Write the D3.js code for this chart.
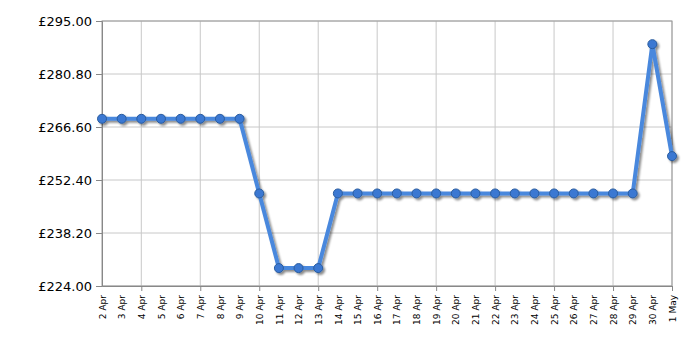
<!DOCTYPE html>
<html>
  <head>
    <meta charset="utf-8">
    <title>Price history</title>
    <script src="https://d3js.org/d3.v7.min.js"></script>
    <style>
      body { margin: 0; background: white; }
      #chart { display: block; }
      .grid line { stroke: #c8c8c8; stroke-width: 1; }
      .axis path, .axis line { stroke: #888; }
      .axis text { fill: #000; font-family: "DejaVu Sans", Verdana, sans-serif; }
      .frame { fill: none; stroke: #999; stroke-width: 1; }
      .priceLine { fill: none; stroke: #4a88dd; stroke-width: 4; stroke-linejoin: round; }
      .pricePoint { fill: #3b78d2; stroke: #2a5c9e; stroke-width: 1; }
    </style>
  </head>
  <body>
    <svg id="chart" width="700" height="350"></svg>
    <script>
      // data
      dates = ["2 Apr", "3 Apr", "4 Apr", "5 Apr", "6 Apr", "7 Apr", "8 Apr", "9 Apr", "10 Apr",
        "11 Apr", "12 Apr", "13 Apr", "14 Apr", "15 Apr", "16 Apr", "17 Apr", "18 Apr", "19 Apr",
        "20 Apr", "21 Apr", "22 Apr", "23 Apr", "24 Apr", "25 Apr", "26 Apr", "27 Apr", "28 Apr",
        "29 Apr", "30 Apr", "1 May"];
      prices = [268.8, 268.8, 268.8, 268.8, 268.8, 268.8, 268.8, 268.8, 248.8,
        228.8, 228.8, 228.8, 248.8, 248.8, 248.8, 248.8, 248.8, 248.8,
        248.8, 248.8, 248.8, 248.8, 248.8, 248.8, 248.8, 248.8, 248.8,
        248.8, 288.8, 258.8];
      yTicks = [224.00, 238.20, 252.40, 266.60, 280.80, 295.00];
      gridDates = ["4 Apr", "7 Apr", "10 Apr", "13 Apr", "16 Apr", "19 Apr", "22 Apr", "25 Apr", "28 Apr", "1 May"];

      // layout
      margin = { top: 21, right: 28, bottom: 64, left: 102 };
      svg = d3.select("#chart");
      width = 700 - margin.left - margin.right;
      height = 350 - margin.top - margin.bottom;
      g = svg.append("g")
        .attr("transform", "translate(" + margin.left + "," + margin.top + ")");

      // shadow filter
      defs = svg.append("defs");
      defs.append("filter")
          .attr("id", "shadow")
          .attr("x", "-10%").attr("y", "-10%")
          .attr("width", "120%").attr("height", "120%")
        .append("feDropShadow")
          .attr("dx", 2).attr("dy", 2)
          .attr("stdDeviation", 1)
          .attr("flood-color", "#000")
          .attr("flood-opacity", 0.45);

      // scales
      x = d3.scalePoint().domain(dates).range([0, width]);
      y = d3.scaleLinear().domain([224, 295]).range([height, 0]);

      // gridlines
      g.append("g").attr("class", "grid")
        .selectAll("line.h")
          .data(yTicks)
        .enter().append("line")
          .attr("x1", 0).attr("x2", width)
          .attr("y1", function(d) { return y(d); })
          .attr("y2", function(d) { return y(d); });
      g.append("g").attr("class", "grid")
        .selectAll("line.v")
          .data(gridDates)
        .enter().append("line")
          .attr("y1", 0).attr("y2", height)
          .attr("x1", function(d) { return x(d); })
          .attr("x2", function(d) { return x(d); });
      g.append("rect")
        .attr("class", "frame")
        .attr("width", width)
        .attr("height", height);

      // axes
      yAxis = g.append("g")
        .attr("class", "axis")
        .call(d3.axisLeft(y)
          .tickValues(yTicks)
          .tickSize(6)
          .tickPadding(4)
          .tickFormat(function(d) { return "£" + d3.format(".2f")(d); }));
      yAxis.selectAll("text").style("font-size", "13px");

      xAxis = g.append("g")
        .attr("class", "axis")
        .attr("transform", "translate(0," + height + ")")
        .call(d3.axisBottom(x).tickSize(0).tickPadding(0));
      xAxis.selectAll(".tick line").remove();
      xAxis.selectAll(".tick")
        .filter(function(d) { return gridDates.indexOf(d) >= 0; })
        .append("line")
          .attr("y2", 5)
          .attr("stroke", "#000");
      xAxis.selectAll("text")
        .style("font-size", "9px")
        .attr("text-anchor", "end")
        .attr("dy", "0.35em")
        .attr("transform", "translate(0,9) rotate(-90)");

      // line and points
      line = d3.line()
        .x(function(d, i) { return x(dates[i]); })
        .y(function(d) { return y(d); });
      series = g.append("g").attr("filter", "url(#shadow)");
      series.append("path")
        .datum(prices)
        .attr("class", "priceLine")
        .attr("d", line);
      series.selectAll(".pricePoint")
          .data(prices)
        .enter().append("circle")
          .attr("class", "pricePoint")
          .attr("cx", function(d, i) { return x(dates[i]); })
          .attr("cy", function(d) { return y(d); })
          .attr("r", 4.5);
    </script>
  </body>
</html>
